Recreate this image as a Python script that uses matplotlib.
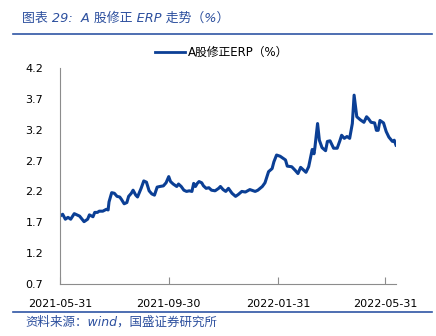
import pandas as pd
import matplotlib.pyplot as plt
import matplotlib.dates as mdates
from matplotlib.lines import Line2D

plt.rcParams['font.family'] = ['DejaVu Sans', 'Noto Sans CJK SC']

title = "图表 29:  A 股修正 ERP 走势（%）"
source = "资料来源：wind，国盛证券研究所"
series_name = "A股修正ERP（%）"

dates = [
    "2021-05-31", "2021-06-03", "2021-06-06", "2021-06-09", "2021-06-12", "2021-06-16",
    "2021-06-22", "2021-06-27", "2021-07-01", "2021-07-03", "2021-07-07", "2021-07-09",
    "2021-07-12", "2021-07-14", "2021-07-18", "2021-07-22", "2021-07-24", "2021-07-25",
    "2021-07-28", "2021-07-31", "2021-08-03", "2021-08-06", "2021-08-08", "2021-08-11",
    "2021-08-14", "2021-08-16", "2021-08-19", "2021-08-21", "2021-08-24", "2021-08-26",
    "2021-08-30", "2021-09-02", "2021-09-05", "2021-09-08", "2021-09-11", "2021-09-14",
    "2021-09-17", "2021-09-20", "2021-09-24", "2021-09-27", "2021-09-30", "2021-10-02",
    "2021-10-05", "2021-10-09", "2021-10-11", "2021-10-14", "2021-10-17", "2021-10-20",
    "2021-10-23", "2021-10-26", "2021-10-28", "2021-10-30", "2021-11-01", "2021-11-03",
    "2021-11-06", "2021-11-08", "2021-11-11", "2021-11-14", "2021-11-17", "2021-11-21",
    "2021-11-25", "2021-11-27", "2021-11-30", "2021-12-03", "2021-12-06", "2021-12-10",
    "2021-12-14", "2021-12-17", "2021-12-21", "2021-12-25", "2021-12-30", "2022-01-05",
    "2022-01-08", "2022-01-13", "2022-01-16", "2022-01-20", "2022-01-24", "2022-01-26",
    "2022-01-29", "2022-02-02", "2022-02-08", "2022-02-10", "2022-02-15", "2022-02-19",
    "2022-02-22", "2022-02-25", "2022-02-28", "2022-03-03", "2022-03-06", "2022-03-10",
    "2022-03-12", "2022-03-13", "2022-03-16", "2022-03-18", "2022-03-21", "2022-03-25",
    "2022-03-27", "2022-03-30", "2022-04-03", "2022-04-07", "2022-04-10", "2022-04-12",
    "2022-04-15", "2022-04-18", "2022-04-21", "2022-04-24", "2022-04-26", "2022-04-29",
    "2022-05-03", "2022-05-07", "2022-05-10", "2022-05-12", "2022-05-15", "2022-05-19",
    "2022-05-21", "2022-05-23", "2022-05-25", "2022-05-29", "2022-06-01", "2022-06-04",
    "2022-06-08", "2022-06-10", "2022-06-12",
]
erp = [
    1.80, 1.83, 1.75, 1.78, 1.75, 1.84,
    1.80, 1.71, 1.75, 1.82, 1.79, 1.86,
    1.86, 1.88, 1.88, 1.91, 1.90, 2.03,
    2.18, 2.17, 2.12, 2.11, 2.07, 2.00,
    2.02, 2.12, 2.17, 2.22, 2.14, 2.11,
    2.25, 2.37, 2.35, 2.21, 2.16, 2.14,
    2.27, 2.28, 2.29, 2.34, 2.44, 2.36,
    2.32, 2.28, 2.32, 2.28, 2.22, 2.20,
    2.21, 2.20, 2.33, 2.28, 2.33, 2.36,
    2.34, 2.29, 2.25, 2.26, 2.22, 2.21,
    2.25, 2.28, 2.23, 2.20, 2.25, 2.17,
    2.12, 2.15, 2.20, 2.19, 2.23, 2.20,
    2.22, 2.28, 2.34, 2.52, 2.57, 2.68,
    2.79, 2.77, 2.71, 2.61, 2.60, 2.54,
    2.49, 2.59, 2.55, 2.51, 2.60, 2.88,
    2.81, 2.91, 3.30, 3.03, 2.91, 2.86,
    3.01, 3.02, 2.90, 2.90, 3.02, 3.11,
    3.06, 3.09, 3.06, 3.30, 3.76, 3.41,
    3.36, 3.32, 3.41, 3.38, 3.32, 3.31,
    3.19, 3.19, 3.35, 3.31, 3.17, 3.08,
    3.01, 3.03, 2.95,
]
tick_dates = ["2021-05-31", "2021-09-30", "2022-01-31", "2022-05-31"]
y_ticks = [0.7, 1.2, 1.7, 2.2, 2.7, 3.2, 3.7, 4.2]

line_color = "#0b3f95"
text_blue = "#2c4f9e"
axis_gray = "#8c8c8c"

x = pd.to_datetime(dates)

fig = plt.figure(figsize=(4.36, 3.36), dpi=100)
ax = fig.add_axes([60 / 436, 1 - 284 / 336, 336 / 436, 216 / 336])

ax.plot(x, erp, color=line_color, lw=2.2, solid_joinstyle="round")

ax.set_xlim(x[0], x[-1])
ax.set_ylim(0.7, 4.2)
ax.set_yticks(y_ticks)
ax.set_yticklabels([f"{v:.1f}" for v in y_ticks])
ax.set_xticks(pd.to_datetime(tick_dates))
ax.xaxis.set_major_formatter(mdates.DateFormatter("%Y-%m-%d"))

for s in ["top", "right"]:
    ax.spines[s].set_visible(False)
for s in ["left", "bottom"]:
    ax.spines[s].set_color(axis_gray)
    ax.spines[s].set_linewidth(0.8)
ax.tick_params(axis="y", length=0, labelsize=8, pad=12, colors="black")
ax.tick_params(axis="x", direction="in", length=5, color=axis_gray,
               labelsize=8, pad=11, labelcolor="black")

# legend
fig.add_artist(Line2D([155 / 436, 185 / 436], [1 - 52 / 336] * 2,
                      color=line_color, lw=2.0))
fig.text(188 / 436, 1 - 52 / 336, series_name, fontsize=8.5,
         va="center", ha="left", color="black")

# header / footer
fig.text(22 / 436, 1 - 18 / 336, title, fontsize=9.3, style="italic",
         color=text_blue, va="center", ha="left")
fig.add_artist(Line2D([13 / 436, 432 / 436], [1 - 34 / 336] * 2,
                      color="#2f55a4", lw=1.2))
fig.add_artist(Line2D([13 / 436, 432 / 436], [1 - 312 / 336] * 2,
                      color="#2f55a4", lw=1.2))
fig.text(25 / 436, 1 - 322 / 336, source, fontsize=9, style="italic",
         color=text_blue, va="center", ha="left")

fig.savefig("out.png", dpi=100)
